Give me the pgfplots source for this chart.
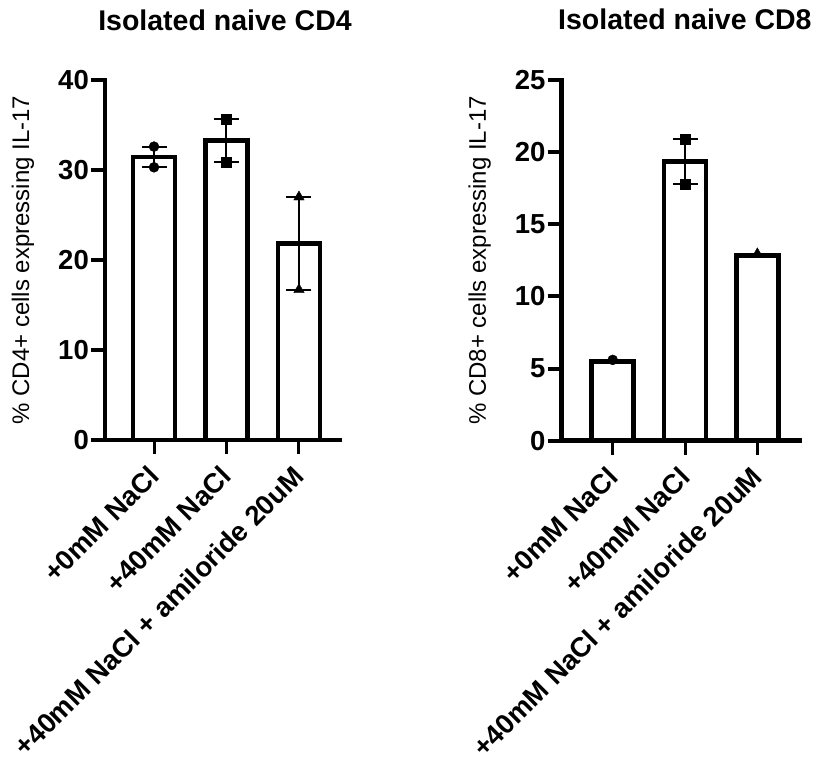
\documentclass[border=0pt]{standalone}
\usepackage{fontspec}
\setmainfont{Liberation Sans}
\usepackage{pgfplots}
\pgfplotsset{compat=1.18}
\pgfplotsset{
  myaxis/.style={
    scale only axis,
    clip=false,
    axis lines=left,
    axis line style={-, line width=4.5pt, line cap=rect},
    tick align=outside,
    major tick length=14pt,
    ytick style={line width=4pt, black},
    xtick style={line width=3pt, black},
    xtick={0,1,2},
    xticklabels={+0mM NaCl, +40mM NaCl, +40mM NaCl + amiloride 20uM},
    xticklabel style={rotate=45, anchor=east, font=\fontsize{27.5}{27.5}\selectfont\bfseries, inner sep=0pt},
    xticklabel shift=17pt,
    yticklabel style={font=\fontsize{27.5}{27.5}\selectfont\bfseries, inner sep=2pt},
    /pgf/number format/assume math mode=true,
    ymin=0,
    ylabel style={font=\fontsize{24}{24}\selectfont, at={(axis description cs:0,0.5)}, anchor=center, yshift=82pt},
    title style={font=\fontsize{28.5}{28.5}\selectfont\bfseries, at={(axis description cs:0.5,1)}, anchor=base, yshift=44pt},
  },
  bars/.style={ybar, bar width=0.58, fill=white, draw=black, line width=4.5pt},
  errs/.style={draw=none, mark=none, error bars/.cd, y dir=both, y explicit,
    error bar style={draw=black, line width=2pt},
    error mark options={rotate=90, mark size=12.5pt, line width=2pt, draw=black}},
}
\begin{document}
\begin{tikzpicture}
\useasboundingbox (0,0) rectangle (816pt,758pt);
% Left panel: CD4
\begin{axis}[myaxis,
  at={(105pt,318pt)}, anchor=south west,
  width=235pt, height=360pt,
  xmin=-0.676, xmax=2.566, ymax=40,
  ytick={0,10,20,30,40},
  ylabel={\% CD4+ cells expressing IL-17},
  title={Isolated naive CD4}, title style={xshift=2.5pt},
]
\addplot[bars] coordinates {(0,31.45) (1,33.3) (2,21.85)};
\addplot[errs] coordinates {(0,31.45) +- (0,1.15) (1,33.3) +- (0,2.4) (2,21.85) +- (0,5.15)};
\addplot[only marks, mark=*, mark size=5pt, black] coordinates {(0,32.6) (0,30.3)};
\addplot[only marks, mark=square*, mark size=5pt, black] coordinates {(1,35.7) (1,30.9)};
\addplot[only marks, mark=triangle*, mark size=6pt, black] coordinates {(2,27.0) (2,16.7)};
\end{axis}
% Right panel: CD8
\begin{axis}[myaxis,
  at={(561.7pt,317.3pt)}, anchor=south west,
  width=238.3pt, height=360.7pt,
  xmin=-0.705, xmax=2.59, ymax=25,
  ytick={0,5,10,15,20,25},
  ylabel={\% CD8+ cells expressing IL-17},
  title={Isolated naive CD8}, title style={xshift=4pt},
]
\addplot[bars] coordinates {(0,5.5) (1,19.35) (2,12.85)};
\addplot[errs] coordinates {(1,19.35) +- (0,1.585)};
\addplot[only marks, mark=*, mark size=5pt, black] coordinates {(0,5.6)};
\addplot[only marks, mark=square*, mark size=5pt, black] coordinates {(1,20.93) (1,17.76)};
\addplot[only marks, mark=triangle*, mark size=6pt, black] coordinates {(2,12.95)};
\end{axis}
\end{tikzpicture}
\end{document}
